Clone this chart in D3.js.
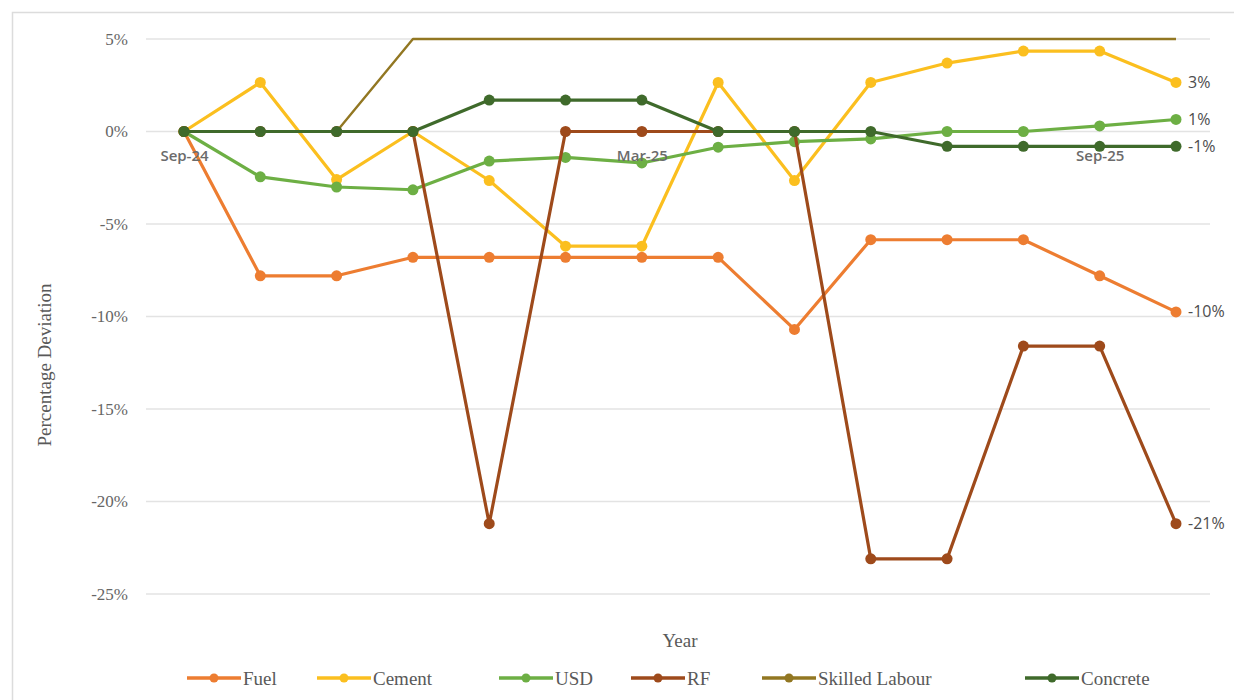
<!DOCTYPE html>
<html>
<head>
<meta charset="utf-8">
<script src="https://cdnjs.cloudflare.com/ajax/libs/d3/7.8.5/d3.min.js"></script>
<style>
  body { margin: 0; background: #fff; }
  svg { display: block; }
</style>
</head>
<body>
<div id="chart"></div>
<script>
// months on the x axis
const months = ["Sep-24", "Oct-24", "Nov-24", "Dec-24", "Jan-25", "Feb-25", "Mar-25",
                "Apr-25", "May-25", "Jun-25", "Jul-25", "Aug-25", "Sep-25", "Oct-25"];
const shownMonths = ["Sep-24", "Mar-25", "Sep-25"];

// percentage deviation per series
const fuel     = [0, -7.8, -7.8, -6.8, -6.8, -6.8, -6.8, -6.8, -10.7, -5.85, -5.85, -5.85, -7.8, -9.75];
const cement   = [0, 2.65, -2.6, 0, -2.65, -6.2, -6.2, 2.65, -2.65, 2.65, 3.7, 4.35, 4.35, 2.65];
const usd      = [0, -2.45, -3.0, -3.15, -1.6, -1.4, -1.7, -0.85, -0.55, -0.4, 0, 0, 0.3, 0.65];
const rf       = [0, 0, 0, 0, -21.2, 0, 0, 0, 0, -23.1, -23.1, -11.6, -11.6, -21.2];
const skilled  = [0, 0, 0, 5, 5, 5, 5, 5, 5, 5, 5, 5, 5, 5];
const concrete = [0, 0, 0, 0, 1.7, 1.7, 1.7, 0, 0, 0, -0.8, -0.8, -0.8, -0.8];

const seriesNames = ["Fuel", "Cement", "USD", "RF", "Skilled Labour", "Concrete"];
const endLabels   = ["-10%", "3%", "1%", "-21%", null, "-1%"];
const yTicks = [5, 0, -5, -10, -15, -20, -25];

const colors = {
  "Fuel": "#ED7D31", "Cement": "#FBBF1F", "USD": "#6DAF44",
  "RF": "#9E4A1B", "Skilled Labour": "#927722", "Concrete": "#3F6A2B"
};

const SERIF = "'Liberation Serif', 'Times New Roman', serif";
const SANS = "'Open Sans', 'DejaVu Sans', sans-serif";

const series = [fuel, cement, usd, rf, skilled, concrete]
  .map((vals, i) => ({ name: seriesNames[i], values: vals, label: endLabels[i] }));

const width = 1234, height = 700;

const x = d3.scalePoint().domain(months).range([184, 1176]);
const y = d3.scaleLinear().domain([-25, 5]).range([594, 39]);

const svg = d3.select("#chart").append("svg")
  .attr("width", width).attr("height", height);

// outer chart frame
svg.append("rect")
  .attr("x", 12.5).attr("y", 12.5)
  .attr("width", width).attr("height", height)
  .attr("fill", "none").attr("stroke", "#dcdcdc").attr("stroke-width", 1.5);

// gridlines
svg.append("g")
  .selectAll("line").data(yTicks).join("line")
  .attr("x1", 146).attr("x2", 1210)
  .attr("y1", d => y(d)).attr("y2", d => y(d))
  .attr("stroke", "#e3e3e3").attr("stroke-width", 1.5);

// y axis labels
const yAxis = svg.append("g")
  .attr("transform", "translate(146,0)")
  .call(d3.axisLeft(y).tickValues(yTicks).tickFormat(d => d + "%").tickSize(0).tickPadding(18));
yAxis.select(".domain").remove();
yAxis.selectAll("text")
  .style("font-family", SERIF)
  .style("font-size", "17px").attr("fill", "#666");

// y axis title
svg.append("text")
  .attr("transform", "translate(51,365) rotate(-90)")
  .attr("text-anchor", "middle")
  .style("font-family", SERIF)
  .style("font-size", "19px").attr("fill", "#595959")
  .text("Percentage Deviation");

// x title
svg.append("text")
  .attr("x", 680).attr("y", 647)
  .attr("text-anchor", "middle")
  .style("font-family", SERIF)
  .style("font-size", "19px").attr("fill", "#595959")
  .text("Year");

const plot = svg.append("g");

const line = d3.line()
  .x((d, i) => x(months[i]))
  .y(d => y(d));

series.forEach(s => {
  const g = plot.append("g");
  const isSkilled = s.name === "Skilled Labour";
  g.append("path")
    .attr("d", line(s.values))
    .attr("fill", "none")
    .attr("stroke", colors[s.name])
    .attr("stroke-width", isSkilled ? 2.4 : 3.2)
    .attr("stroke-linejoin", "round");
  if (!isSkilled) {
    g.selectAll("circle").data(s.values).join("circle")
      .attr("cx", (d, i) => x(months[i]))
      .attr("cy", d => y(d))
      .attr("r", 5.5)
      .attr("fill", colors[s.name]);
  }
});

// category labels on the zero line
const xAxis = svg.append("g")
  .attr("transform", `translate(0,${y(0)})`)
  .call(d3.axisBottom(x).tickValues(shownMonths).tickSize(0).tickPadding(19));
xAxis.select(".domain").remove();
xAxis.selectAll("text")
  .style("font-family", SANS)
  .style("font-size", "15px").attr("font-weight", 600).attr("fill", "#6b6b6b");

// end-of-line labels
const last = months.length - 1;
svg.append("g").selectAll("text")
  .data(series.filter(s => s.label))
  .join("text")
  .attr("x", x(months[last]) + 12)
  .attr("y", d => y(d.values[last]))
  .attr("dy", "0.35em")
  .style("font-family", SANS)
  .style("font-size", "16px").attr("fill", "#4d4d4d")
  .text(d => d.label);

// legend
const legendX = [187, 317, 499, 631, 762, 1025];
const legend = svg.append("g").attr("transform", "translate(0,678)");
seriesNames.forEach((name, i) => {
  const g = legend.append("g").attr("transform", `translate(${legendX[i]},0)`);
  g.append("line").attr("x1", 0).attr("x2", 54).attr("y1", 0).attr("y2", 0)
    .attr("stroke", colors[name]).attr("stroke-width", 3.5);
  g.append("circle").attr("cx", 27).attr("cy", 0).attr("r", 4.5).attr("fill", colors[name]);
  g.append("text").attr("x", 56).attr("y", 0).attr("dy", "0.35em")
    .style("font-family", SERIF)
    .style("font-size", "19px").attr("fill", "#595959")
    .text(name);
});
</script>
</body>
</html>
